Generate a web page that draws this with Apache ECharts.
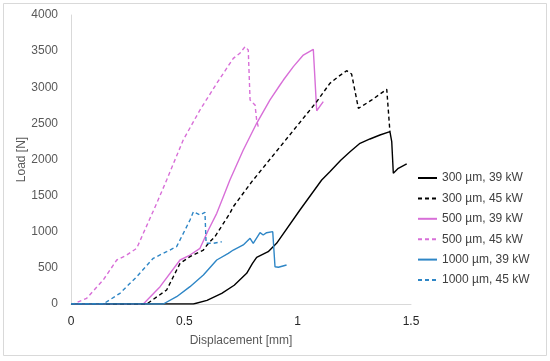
<!DOCTYPE html>
<html>
<head>
<meta charset="utf-8">
<script src="https://cdn.jsdelivr.net/npm/echarts@6/dist/echarts.min.js"></script>
<style>
html,body{margin:0;padding:0;background:#fff;}
#c{width:550px;height:361px;}
</style>
</head>
<body>
<div id="c"></div>
<script>
var seriesNames = ['300 µm, 39 kW','300 µm, 45 kW','500 µm, 39 kW','500 µm, 45 kW','1000 µm, 39 kW','1000 µm, 45 kW'];
var xTicks = [0, 0.5, 1, 1.5];
var yTicks = [0,500,1000,1500,2000,2500,3000,3500,4000];

var s300_39 = [[0,0],[0.54,0],[0.60,50],[0.665,148],[0.72,260],[0.775,425],[0.80,560],[0.819,646],[0.870,724],[0.907,840],[1.010,1301],[1.106,1716],[1.142,1831],[1.19,1990],[1.231,2108],[1.275,2224],[1.319,2284],[1.363,2339],[1.407,2385],[1.415,2247],[1.422,1809],[1.444,1878],[1.481,1938]];
var s300_45 = [[0,0],[0.334,0],[0.422,194],[0.481,563],[0.525,655],[0.584,747],[0.606,840],[0.635,932],[0.701,1255],[0.716,1347],[0.797,1690],[1.084,2800],[1.142,3054],[1.179,3146],[1.216,3229],[1.238,3183],[1.268,2708],[1.327,2824],[1.393,2972],[1.400,2962],[1.407,2385]];
var s500_39 = [[0,0],[0.319,0],[0.393,240],[0.481,609],[0.525,678],[0.569,771],[0.606,1024],[0.643,1255],[0.672,1485],[0.701,1716],[0.760,2131],[0.819,2501],[0.878,2824],[0.922,3031],[0.937,3100],[0.981,3285],[1.025,3446],[1.069,3525],[1.084,2675],[1.113,2800]];
var s500_45 = [[0,0],[0.01,0],[0.069,79],[0.142,332],[0.202,609],[0.246,678],[0.290,771],[0.319,978],[0.378,1393],[0.422,1716],[0.495,2270],[0.569,2685],[0.643,3054],[0.716,3400],[0.745,3470],[0.768,3562],[0.782,3516],[0.790,2824],[0.812,2754],[0.819,2547],[0.826,2454]];
var s1000_39 = [[0,0],[0.407,0],[0.466,101],[0.525,240],[0.584,401],[0.643,609],[0.694,701],[0.716,747],[0.760,817],[0.790,909],[0.804,840],[0.834,987],[0.848,955],[0.863,987],[0.890,1001],[0.900,516],[0.915,508],[0.951,540]];
var s1000_45 = [[0,0],[0.142,0],[0.216,148],[0.290,378],[0.363,633],[0.422,724],[0.466,794],[0.503,1024],[0.525,1163],[0.540,1278],[0.569,1232],[0.591,1269],[0.596,840],[0.628,840],[0.665,862]];

var allData = [s300_39, s300_45, s500_39, s500_45, s1000_39, s1000_45];
var colors = ['#000000','#000000','#D86FD8','#D86FD8','#2E86C6','#2E86C6'];
var dashed = [false,true,false,true,false,true];

var chart = echarts.init(document.getElementById('c'), null, {renderer:'canvas'});
var FONT = '"Liberation Sans", Arial, sans-serif';
var series = allData.map(function(d,i){
  return {
    name: seriesNames[i],
    type: 'line',
    data: d,
    symbol: 'none',
    smooth: false,
    z: 10 - i + (i>=4 ? 10 : 0),
    lineStyle: {color: colors[i], width: 1.4, type: dashed[i] ? [4,3] : 'solid'},
    itemStyle: {color: colors[i]}
  };
});
chart.setOption({
  backgroundColor: '#ffffff',
  animation: false,
  textStyle: {fontFamily: FONT},
  graphic: [{type:'rect', shape:{x:3.5,y:3.5,width:543,height:352}, style:{fill:'none', stroke:'#d9d9d9', lineWidth:1}, z:-1}],
  grid: {left:71, right:139, top:15, bottom:57, containLabel:false},
  legend: {
    orient: 'vertical', left: 417, top: 172, padding: 0,
    itemWidth: 19, itemHeight: 12, itemGap: 8.4,
    itemStyle: {opacity: 0},
    lineStyle: {width: 2},
    textStyle: {fontSize: 12, color: '#404040', fontFamily: FONT},
    data: seriesNames
  },
  xAxis: {
    type: 'value', min: 0, max: 1.5, interval: 0.5,
    name: 'Displacement [mm]', nameLocation: 'middle', nameGap: 31,
    nameTextStyle: {fontSize: 12, color: '#595959'},
    axisLine: {show:true, lineStyle:{color:'#d9d9d9', width:1}},
    axisTick: {show:false},
    splitLine: {show:false},
    axisLabel: {fontSize: 12, color: '#262626', margin: 12,
      formatter: function(v){ return xTicks.indexOf(v) >= 0 ? String(v) : ''; }}
  },
  yAxis: {
    type: 'value', min: 0, max: 4000, interval: 500,
    name: 'Load [N]', nameLocation: 'middle', nameGap: 43, nameRotate: 90,
    nameMoveOverlap: false,
    nameTextStyle: {fontSize: 12, color: '#595959'},
    axisLine: {show:true, lineStyle:{color:'#d9d9d9', width:1}},
    axisTick: {show:false},
    splitLine: {show:false},
    axisLabel: {fontSize: 12, color: '#595959', margin: 13,
      formatter: function(v){ return yTicks.indexOf(v) >= 0 ? String(v) : ''; }}
  },
  series: series
});
</script>
</body>
</html>
